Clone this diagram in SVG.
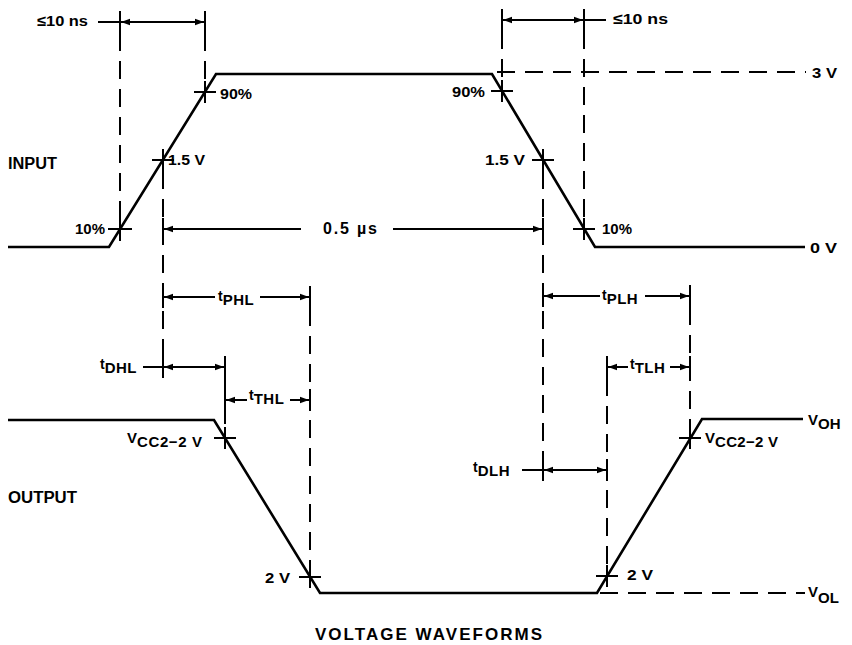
<svg xmlns="http://www.w3.org/2000/svg" width="852" height="645" viewBox="0 0 852 645">
<style>
  .wave{fill:none;stroke:#000;stroke-width:2.6;stroke-linejoin:miter}
  .dash{fill:none;stroke:#000;stroke-width:2;stroke-dasharray:18 10}
  .tick{fill:none;stroke:#000;stroke-width:2}
  .dim{fill:none;stroke:#000;stroke-width:2;marker-end:url(#ah)}
  .lead{fill:none;stroke:#000;stroke-width:2}
  text{font-family:"Liberation Sans",Arial,sans-serif;font-weight:bold;font-size:15px;fill:#000}
  .big{font-size:16px}
  .title{font-size:17px}
  .sm{font-size:14px}
</style>
<defs>
  <marker id="ah" markerUnits="userSpaceOnUse" markerWidth="10" markerHeight="8" refX="9" refY="4" orient="auto">
    <path d="M0,0.8 L9,4 L0,7.2 z" fill="#000"/>
  </marker>
</defs>
<rect width="852" height="645" fill="#fff"/>

<g id="waveforms">
  <path id="input-wave" class="wave" d="M8,247 L109,247 L216,74 L492,74 L595,247 L805,247"/>
  <path id="output-wave" class="wave" d="M8,420 L214,420 L320,593 L597,593 L702,419 L803,419"/>
</g>

<g id="reference-levels">
  <path class="dash" d="M497,72 L806,72"/>
  <path class="dash" d="M600,593 L805,593"/>
</g>

<g id="connectors">
  <g id="guides">
    <path class="dash" d="M120,33 L120,241"/>
    <path class="dash" d="M205,33 L205,103"/>
    <path class="dash" d="M163,171 L163,378"/>
    <path class="dash" d="M225,378 L225,449"/>
    <path class="dash" d="M310,308 L310,588"/>
    <path class="dash" d="M502,31 L502,102"/>
    <path class="dash" d="M584,31 L584,240"/>
    <path class="dash" d="M543,171 L543,481"/>
    <path class="dash" d="M607,378 L607,587"/>
    <path class="dash" d="M690,307 L690,449"/>
  </g>
  <g id="crosses">
    <path class="tick" d="M108,229 H132 M120,218 V241"/>
    <path class="tick" d="M152,160 H174 M163,149 V171"/>
    <path class="tick" d="M194,92 H216 M205,81 V103"/>
    <path class="tick" d="M491,91 H513 M502,80 V102"/>
    <path class="tick" d="M532,160 H554 M543,149 V171"/>
    <path class="tick" d="M573,229 H595 M584,218 V240"/>
    <path class="tick" d="M214,438 H236 M225,427 V449"/>
    <path class="tick" d="M299,577 H321 M310,566 V588"/>
    <path class="tick" d="M596,576 H618 M607,565 V587"/>
    <path class="tick" d="M679,438 H701 M690,427 V449"/>
  </g>
  <g id="ticks">
    <path class="tick" d="M120,11 V33 M205,11 V33 M502,9 V31 M584,9 V31"/>
    <path class="tick" d="M163,218 V240 M543,218 V240"/>
    <path class="tick" d="M163,286 V308 M310,286 V308 M163,356 V378 M225,356 V378 M225,389 V411 M310,389 V411"/>
    <path class="tick" d="M543,285 V307 M690,285 V307 M607,356 V378 M690,356 V378 M543,459 V481 M607,459 V481"/>
  </g>
  <g id="dimensions">
    <path class="lead" d="M98,22 H120"/>
    <path class="dim" d="M162,22 H121"/>
    <path class="dim" d="M162,22 H204"/>
    <path class="lead" d="M584,20 H606"/>
    <path class="dim" d="M543,20 H503"/>
    <path class="dim" d="M543,20 H583"/>
    <path class="dim" d="M301,229 H164"/>
    <path class="dim" d="M393,229 H542"/>
    <path class="dim" d="M215,297 H164"/>
    <path class="dim" d="M260,297 H309"/>
    <path class="lead" d="M143,367 H163"/>
    <path class="dim" d="M194,367 H164"/>
    <path class="dim" d="M194,367 H224"/>
    <path class="dim" d="M247,400 H226"/>
    <path class="dim" d="M290,400 H309"/>
    <path class="dim" d="M600,296 H544"/>
    <path class="dim" d="M645,296 H689"/>
    <path class="dim" d="M628,367 H608"/>
    <path class="dim" d="M670,367 H689"/>
    <path class="lead" d="M522,470 H543"/>
    <path class="dim" d="M575,470 H544"/>
    <path class="dim" d="M575,470 H606"/>
  </g>
</g>

<g id="labels">
  <text x="37" y="26" textLength="51" lengthAdjust="spacingAndGlyphs">≤10 ns</text>
  <text x="613" y="24" textLength="55" lengthAdjust="spacingAndGlyphs">≤10 ns</text>
  <text x="220" y="99" textLength="32" lengthAdjust="spacingAndGlyphs">90%</text>
  <text x="452" y="97" textLength="33" lengthAdjust="spacingAndGlyphs">90%</text>
  <text x="812" y="78" textLength="25" lengthAdjust="spacingAndGlyphs">3 V</text>
  <text class="big" x="8" y="169" textLength="49" lengthAdjust="spacingAndGlyphs">INPUT</text>
  <text x="168" y="165" textLength="37" lengthAdjust="spacingAndGlyphs">1.5 V</text>
  <text x="485" y="165" textLength="40" lengthAdjust="spacingAndGlyphs">1.5 V</text>
  <text x="75" y="234" textLength="30" lengthAdjust="spacingAndGlyphs">10%</text>
  <text x="602" y="234" textLength="30" lengthAdjust="spacingAndGlyphs">10%</text>
  <text class="big" x="323" y="234" textLength="54" lengthAdjust="spacing">0.5 µs</text>
  <text x="810" y="253" textLength="27" lengthAdjust="spacingAndGlyphs">0 V</text>
  <text class="sm" x="218" y="301">t<tspan dy="4" font-size="15" letter-spacing="0.5">PHL</tspan></text>
  <text class="sm" x="602" y="300">t<tspan dy="4" font-size="15" letter-spacing="0.5">PLH</tspan></text>
  <text class="sm" x="100" y="369">t<tspan dy="4" font-size="15" letter-spacing="0.5">DHL</tspan></text>
  <text class="sm" x="630" y="369">t<tspan dy="4" font-size="15" letter-spacing="0.5">TLH</tspan></text>
  <text class="sm" x="249" y="400">t<tspan dy="4" font-size="15" letter-spacing="0.5">THL</tspan></text>
  <text class="sm" x="473" y="472">t<tspan dy="4" font-size="15" letter-spacing="0.5">DLH</tspan></text>
  <text x="127" y="443" font-size="16">V<tspan dy="4" font-size="15" letter-spacing="0.6">CC2−2 V</tspan></text>
  <text x="705" y="443" font-size="16">V<tspan dy="4" font-size="15" letter-spacing="0.3">CC2−2 V</tspan></text>
  <text x="808" y="425" font-size="16">V<tspan dy="4" font-size="15">OH</tspan></text>
  <text x="808" y="597" font-size="16">V<tspan dy="6" font-size="15">OL</tspan></text>
  <text class="big" x="8" y="503" textLength="69" lengthAdjust="spacingAndGlyphs">OUTPUT</text>
  <text x="265" y="583" textLength="25" lengthAdjust="spacingAndGlyphs">2 V</text>
  <text x="627" y="580" textLength="26" lengthAdjust="spacingAndGlyphs">2 V</text>
  <text class="title" x="315" y="640" textLength="227" lengthAdjust="spacing">VOLTAGE WAVEFORMS</text>
</g>
</svg>
